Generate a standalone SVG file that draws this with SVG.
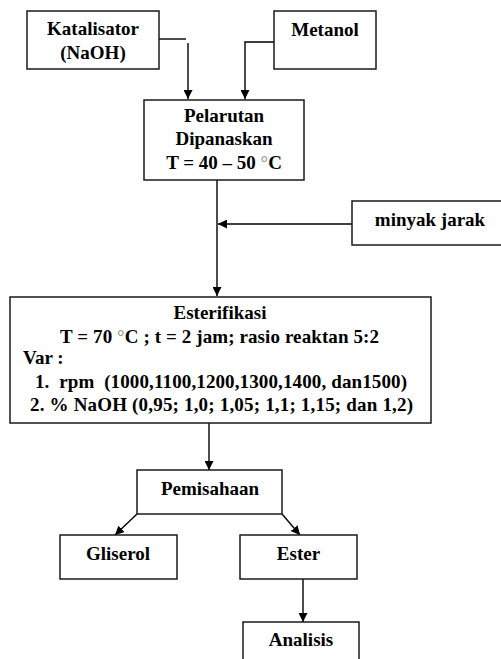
<svg xmlns="http://www.w3.org/2000/svg" width="501" height="659" viewBox="0 0 501 659">
<defs>
<marker id="arr" viewBox="0 0 10 10" refX="10" refY="5" markerWidth="9" markerHeight="9" markerUnits="userSpaceOnUse" orient="auto">
<path d="M0,0 L10,5 L0,10 z" fill="#000"/>
</marker>
</defs>
<style>
rect{fill:#fff;stroke:#1a1a1a;stroke-width:1.5}
.c{text-anchor:middle}
.ln{fill:none;stroke:#000;stroke-width:1.4}
.deg{fill:#999}
</style>
<rect x="0" y="0" width="501" height="659" style="fill:#fff;stroke:none"/>
<g id="connectors">
<path class="ln" d="M159,39 H186"/>
<path class="ln" d="M188,43 V99" marker-end="url(#arr)"/>
<path class="ln" d="M275,42 H245 V99" marker-end="url(#arr)"/>
<path class="ln" d="M217,180 V296" marker-end="url(#arr)"/>
<path class="ln" d="M352,224 H218" marker-end="url(#arr)"/>
<path class="ln" d="M209,423 V470" marker-end="url(#arr)"/>
<path class="ln" d="M137,514 L115,535" marker-end="url(#arr)"/>
<path class="ln" d="M282,514 L300,535" marker-end="url(#arr)"/>
<path class="ln" d="M303,579 V622" marker-end="url(#arr)"/>
</g>
<g font-family="'Liberation Serif', 'Times New Roman', serif" font-weight="bold" font-size="19" fill="#000">
<g id="katalisator">
<rect x="27" y="11" width="132" height="58"/>
<text class="c" x="93" y="35">Katalisator</text>
<text class="c" x="93" y="59">(NaOH)</text>
</g>
<g id="metanol">
<rect x="274" y="11" width="102" height="58"/>
<text class="c" x="325" y="36">Metanol</text>
</g>
<g id="pelarutan">
<rect x="144" y="100" width="160" height="80"/>
<text class="c" x="224" y="122">Pelarutan</text>
<text class="c" x="224" y="145">Dipanaskan</text>
<text class="c" x="224" y="169">T = 40 – 50 <tspan class="deg">°</tspan>C</text>
</g>
<g id="minyak">
<rect x="352" y="201" width="150" height="44"/>
<text class="c" x="430" y="226">minyak jarak</text>
</g>
<g id="esterifikasi">
<rect x="10" y="297" width="421" height="126"/>
<text class="c" x="220" y="319">Esterifikasi</text>
<text x="60" y="343" textLength="319" lengthAdjust="spacing">T = 70 <tspan class="deg">°</tspan>C ; t = 2 jam; rasio reaktan 5:2</text>
<text x="23" y="364">Var :</text>
<text x="35" y="388" xml:space="preserve" textLength="372" lengthAdjust="spacing">1.  rpm  (1000,1100,1200,1300,1400, dan1500)</text>
<text x="30" y="411" textLength="383" lengthAdjust="spacing">2. % NaOH (0,95; 1,0; 1,05; 1,1; 1,15; dan 1,2)</text>
</g>
<g id="pemisahaan">
<rect x="137" y="470" width="145" height="44"/>
<text class="c" x="210" y="495">Pemisahaan</text>
</g>
<g id="gliserol">
<rect x="60" y="535" width="117" height="44"/>
<text class="c" x="118" y="560">Gliserol</text>
</g>
<g id="ester">
<rect x="240" y="535" width="117" height="44"/>
<text class="c" x="298.5" y="560">Ester</text>
</g>
<g id="analisis">
<rect x="243" y="622" width="116" height="50"/>
<text class="c" x="301" y="646">Analisis</text>
</g>
</g>
</svg>
